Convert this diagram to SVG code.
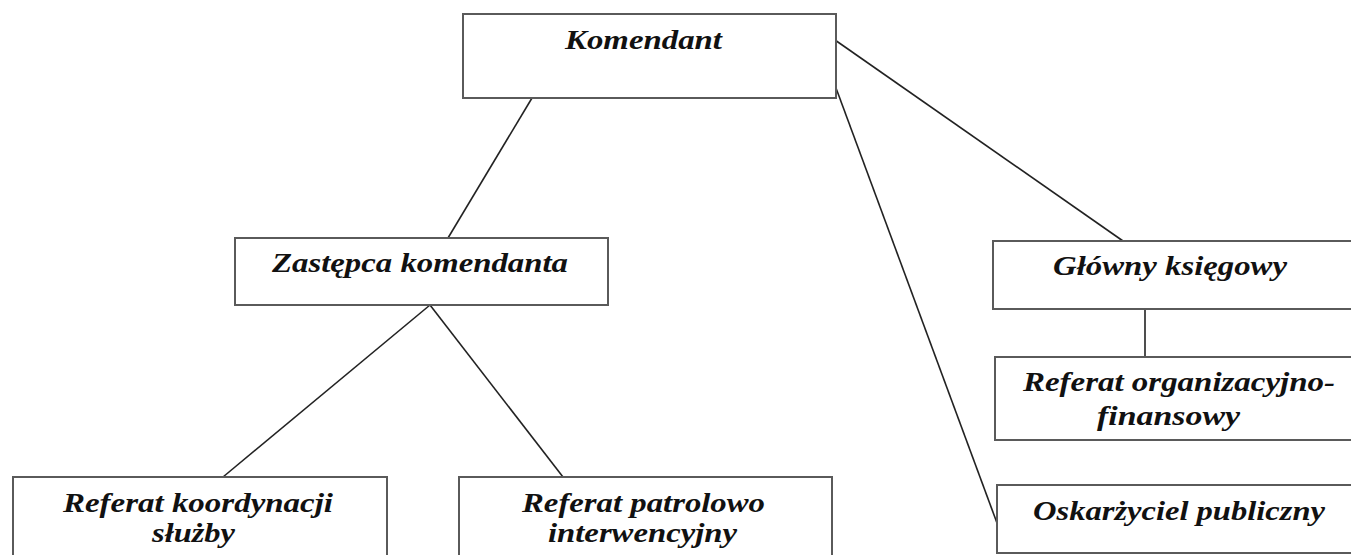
<svg xmlns="http://www.w3.org/2000/svg" width="1351" height="555" viewBox="0 0 1351 555">
<style>
.box{fill:#fff;stroke:#5a5a5a;stroke-width:2}
.lbl{font-family:"Times New Roman","Liberation Serif",Tinos,serif;font-weight:700;font-style:italic;font-size:28px;fill:#111}
.conn line{stroke:#222;stroke-width:1.6}
</style>
<rect x="0" y="0" width="1351" height="555" fill="#fff"/>
<g id="connectors" class="conn">
<line x1="532" y1="98" x2="448" y2="238"/>
<line x1="430" y1="305" x2="223" y2="477"/>
<line x1="430" y1="305" x2="563" y2="477"/>
<line x1="835" y1="40" x2="1123" y2="241"/>
<line x1="836" y1="88" x2="997" y2="523"/>
<line x1="1145" y1="309" x2="1145" y2="357"/>
</g>
<g id="komendant">
<rect class="box" x="463" y="14" width="373" height="84"/>
<text class="lbl" x="565" y="49" textLength="157" lengthAdjust="spacingAndGlyphs">Komendant</text>
</g>
<g id="zastepca">
<rect class="box" x="235" y="238" width="373" height="67"/>
<text class="lbl" x="272" y="272" textLength="296" lengthAdjust="spacingAndGlyphs">Zastępca komendanta</text>
</g>
<g id="referat-koordynacji">
<rect class="box" x="13" y="477" width="374" height="100"/>
<text class="lbl" x="63" y="512" textLength="270" lengthAdjust="spacingAndGlyphs">Referat koordynacji</text>
<text class="lbl" x="152" y="542" textLength="83" lengthAdjust="spacingAndGlyphs">służby</text>
</g>
<g id="referat-patrolowo">
<rect class="box" x="459" y="477" width="373" height="100"/>
<text class="lbl" x="522" y="512" textLength="243" lengthAdjust="spacingAndGlyphs">Referat patrolowo</text>
<text class="lbl" x="548" y="542" textLength="189" lengthAdjust="spacingAndGlyphs">interwencyjny</text>
</g>
<g id="glowny-ksiegowy">
<rect class="box" x="993" y="241" width="380" height="68"/>
<text class="lbl" x="1053" y="275" textLength="234" lengthAdjust="spacingAndGlyphs">Główny księgowy</text>
</g>
<g id="referat-organizacyjno">
<rect class="box" x="995" y="357" width="380" height="83"/>
<text class="lbl" x="1023" y="391" textLength="312" lengthAdjust="spacingAndGlyphs">Referat organizacyjno-</text>
<text class="lbl" x="1097" y="425" textLength="143" lengthAdjust="spacingAndGlyphs">finansowy</text>
</g>
<g id="oskarzyciel">
<rect class="box" x="997" y="485" width="380" height="68"/>
<text class="lbl" x="1033" y="520" textLength="292" lengthAdjust="spacingAndGlyphs">Oskarżyciel publiczny</text>
</g>
</svg>
